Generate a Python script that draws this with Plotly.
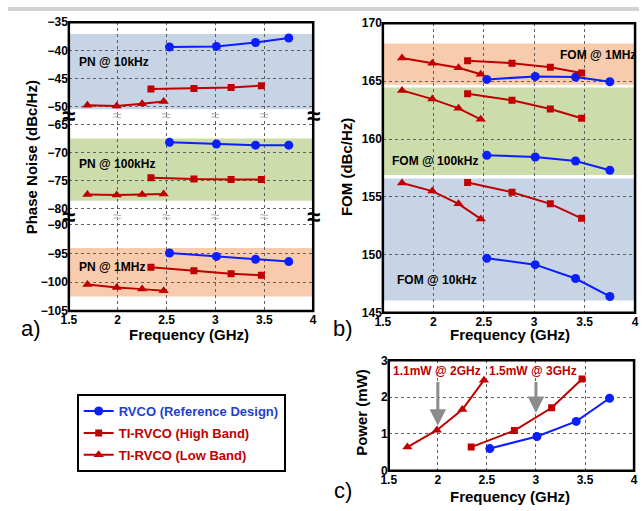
import plotly.graph_objects as go

W, H = 643, 511
def px(x): return x / W
def py(y): return 1 - y / H

# ---------------- data ----------------
f_rvco = [2.53, 3.01, 3.41, 3.75]
f_hb = [2.34, 2.78, 3.16, 3.47]
f_lb = [1.69, 1.99, 2.25, 2.47]

pn10k_rvco = [-39.4, -39.3, -38.6, -37.8]
pn10k_hb = [-46.9, -46.8, -46.6, -46.3]
pn10k_lb = [-49.8, -49.9, -49.5, -49.1]
pn100k_rvco = [-68.2, -68.5, -68.7, -68.7]
pn100k_hb = [-74.5, -74.75, -74.8, -74.8]
pn100k_lb = [-77.5, -77.6, -77.5, -77.4]
pn1m_rvco = [-94.9, -95.5, -96.0, -96.4]
pn1m_hb = [-97.4, -98.0, -98.5, -98.8]
pn1m_lb = [-100.4, -100.9, -101.2, -101.5]

fom1m_rvco = [165.15, 165.4, 165.35, 164.95]
fom1m_hb = [166.75, 166.55, 166.2, 165.7]
fom1m_lb = [167.0, 166.55, 166.15, 165.6]
fom100k_rvco = [158.6, 158.45, 158.1, 157.3]
fom100k_hb = [163.9, 163.35, 162.6, 161.8]
fom100k_lb = [164.2, 163.45, 162.65, 161.7]
fom10k_rvco = [149.7, 149.15, 147.95, 146.4]
fom10k_hb = [156.25, 155.4, 154.4, 153.15]
fom10k_lb = [156.2, 155.5, 154.4, 153.1]

pw_rvco = [0.6, 0.93, 1.34, 1.97]
pw_hb = [0.64, 1.09, 1.71, 2.49]
pw_lb = [0.64, 1.1, 1.66, 2.46]

series_names = ["RVCO (Reference Design)", "TI-RVCO (High Band)", "TI-RVCO (Low Band)"]
x_ticks = [1.5, 2, 2.5, 3, 3.5, 4]
pn_ticks_top = [-35, -40, -45, -50]
pn_ticks_mid = [-65, -70, -75, -80]
pn_ticks_bot = [-90, -95, -100, -105]
fom_ticks = [145, 150, 155, 160, 165, 170]
pw_ticks = [0, 1, 2, 3]

# ---------------- style ----------------
BLUE = "#0a1eff"
RED = "#c00000"
BLUE_TXT = "#1f3fd0"
FONT = "Liberation Sans, Arial, sans-serif"
FONT_REG = "Liberation Sans, Arial, sans-serif"
BAND_BLUE = "#c6d4e5"
BAND_GREEN = "#cddcab"
BAND_ORANGE = "#f8cbad"

styles = [
    dict(color=BLUE, symbol="circle", size=9),
    dict(color=RED, symbol="square", size=7),
    dict(color=RED, symbol="triangle-up", size=9),
]

fig = go.Figure()

def add_group(xs, ys, xa, ya, legend=False):
    for i, (xv, yv) in enumerate(zip(xs, ys)):
        st = styles[i]
        txtcol = BLUE_TXT if i == 0 else RED
        fig.add_trace(go.Scatter(
            x=xv, y=yv, xaxis=xa, yaxis=ya, mode="lines+markers",
            line=dict(color=st["color"], width=2),
            marker=dict(color=st["color"], symbol=st["symbol"], size=st["size"]),
            name=f'<span style="color:{txtcol}">{series_names[i]}</span>',
            showlegend=legend, legendgroup=f"g{i}",
        ))

fx = [f_rvco, f_hb, f_lb]
add_group(fx, [pn10k_rvco, pn10k_hb, pn10k_lb], "x", "y")
add_group(fx, [pn100k_rvco, pn100k_hb, pn100k_lb], "x", "y2")
add_group(fx, [pn1m_rvco, pn1m_hb, pn1m_lb], "x", "y3")
add_group(fx, [fom1m_rvco, fom1m_hb, fom1m_lb], "x4", "y4")
add_group(fx, [fom100k_rvco, fom100k_hb, fom100k_lb], "x4", "y4")
add_group(fx, [fom10k_rvco, fom10k_hb, fom10k_lb], "x4", "y4")
add_group(fx, [pw_rvco, pw_hb, pw_lb], "x5", "y5", legend=True)

tickfont = dict(family=FONT, size=12, color="black", weight="bold")
grid = dict(showgrid=True, gridcolor="#606060", griddash="dot", gridwidth=1,
            zeroline=False, showline=False, ticks="", tickfont=tickfont,
            fixedrange=True)

# panel a geometry
ax_a = [px(62), px(311)]
seg1 = [py(111.5), py(15.7)]
seg2 = [py(215.6), py(111.5)]
seg3 = [py(312.5), py(215.6)]
ax_b = [px(382), px(639)]
ay_b = [py(314.3), py(16.7)]
ax_c = [px(388), px(638)]
ay_c = [py(476.7), py(363.3)]

fig.update_layout(
    width=W, height=H, margin=dict(l=0, r=0, t=0, b=0),
    paper_bgcolor="white", plot_bgcolor="white",
    xaxis=dict(domain=ax_a, anchor="y3", range=[1.5, 4], tickvals=x_ticks, **grid),
    yaxis=dict(domain=seg1, anchor="x", range=[-51.6, -35], tickvals=pn_ticks_top, **grid),
    yaxis2=dict(domain=seg2, anchor="x", range=[-81.45, -63.41], tickvals=pn_ticks_mid, **grid),
    yaxis3=dict(domain=seg3, anchor="x", range=[-105, -88.58], tickvals=pn_ticks_bot, **grid),
    xaxis4=dict(domain=ax_b, anchor="y4", range=[1.5, 4], tickvals=x_ticks, **grid),
    yaxis4=dict(domain=ay_b, anchor="x4", range=[145, 170], tickvals=fom_ticks, **grid),
    xaxis5=dict(domain=ax_c, anchor="y5", range=[1.5, 4], tickvals=x_ticks, **grid),
    yaxis5=dict(domain=ay_c, anchor="x5", range=[0, 3], tickvals=pw_ticks, **grid),
    showlegend=True,
    legend=dict(x=px(70), y=py(398), xanchor="left", yanchor="top",
                bgcolor="white", bordercolor="black", borderwidth=2,
                font=dict(family=FONT, size=13, weight="bold"),
                tracegroupgap=2, traceorder="grouped"),
)

shapes = []
# top gray stripe
shapes.append(dict(type="rect", xref="paper", yref="paper", x0=0, x1=1, y0=py(4), y1=1,
                   fillcolor="#d2d2d2", line_width=0, layer="below"))
# bands panel a
for yr, y0, y1, col in [("y", -50.5, -37.1, BAND_BLUE), ("y2", -78.6, -67.5, BAND_GREEN),
                        ("y3", -102.5, -94.05, BAND_ORANGE)]:
    shapes.append(dict(type="rect", xref="x domain", yref=yr, x0=0, x1=1, y0=y0, y1=y1,
                       fillcolor=col, line_width=0, layer="below"))
# bands panel b
for y0, y1, col in [(146.06, 156.6, BAND_BLUE), (156.9, 164.45, BAND_GREEN),
                    (164.68, 168.24, BAND_ORANGE)]:
    shapes.append(dict(type="rect", xref="x4 domain", yref="y4", x0=0, x1=1, y0=y0, y1=y1,
                       fillcolor=col, line_width=0, layer="below"))
# frames
shapes.append(dict(type="rect", xref="x domain", yref="paper", x0=0, x1=1, y0=seg3[0], y1=seg1[1],
                   line=dict(color="black", width=2.5), layer="above"))
shapes.append(dict(type="rect", xref="x4 domain", yref="y4 domain", x0=0, x1=1, y0=0, y1=1,
                   line=dict(color="black", width=2.5), layer="above"))
shapes.append(dict(type="rect", xref="x5 domain", yref="y5 domain", x0=0, x1=1, y0=0, y1=1,
                   line=dict(color="black", width=2.5), layer="above"))
fig.update_layout(shapes=shapes)

ann = []
def text(x, y, s, size=12, color="black", family=FONT, weight="bold", xanchor="center",
         textangle=0, xref="paper", yref="paper"):
    ann.append(dict(x=x, y=y, xref=xref, yref=yref, text=s, showarrow=False,
                    xanchor=xanchor, yanchor="middle", textangle=textangle,
                    font=dict(family=family, size=size, color=color, weight=weight)))

# break marks
for yb in [seg1[0], seg2[0]]:
    for xv in [2, 2.5, 3, 3.5]:
        ann.append(dict(x=xv, y=yb, xref="x", yref="paper", text="≈", showarrow=False,
                        xanchor="center", yanchor="middle",
                        font=dict(family=FONT_REG, size=16, color="#b8b8b8")))
    for xv in [0, 1]:
        ann.append(dict(x=xv, y=yb, xref="x domain", yref="paper", text="≈", showarrow=False,
                        xanchor="center", yanchor="middle",
                        font=dict(family=FONT_REG, size=24, color="black", weight="bold")))

# region labels
text(px(70), py(57), "PN @ 10kHz", xanchor="left")
text(px(70), py(161), "PN @ 100kHz", xanchor="left")
text(px(70), py(267), "PN @ 1MHz", xanchor="left")
text(px(560), py(49), "FOM @ 1MHz", xanchor="left")
text(px(389), py(158), "FOM @ 100kHz", xanchor="left")
text(px(394), py(281), "FOM @ 10kHz", xanchor="left")

# axis titles
text(px(24), py(155), "Phase Noise (dBc/Hz)", size=15, textangle=-90)
text(px(345), py(165), "FOM (dBc/Hz)", size=15, textangle=-90)
text(px(360), py(417), "Power (mW)", size=15, textangle=-90)
text(px(184), py(337), "Frequency (GHz)", size=15)
text(px(512), py(337), "Frequency (GHz)", size=15)
text(px(512), py(503), "Frequency (GHz)", size=15)

# panel letters
text(px(23), py(331), "a)", size=22, family=FONT_REG, weight="normal")
text(px(341), py(331), "b)", size=22, family=FONT_REG, weight="normal")
text(px(341), py(497), "c)", size=22, family=FONT_REG, weight="normal")

# panel c callouts
text(1.99, 2.72, "1.1mW @ 2GHz", size=12, color=RED, xref="x5", yref="y5")
text(2.97, 2.72, "1.5mW @ 3GHz", size=12, color=RED, xref="x5", yref="y5")
for xa, ytip in [(2.0, 1.22), (3.0, 1.57)]:
    ann.append(dict(x=xa, y=ytip, ax=xa, ay=2.45, xref="x5", yref="y5", axref="x5", ayref="y5",
                    text="", showarrow=True, arrowhead=2, arrowsize=1.1, arrowwidth=3,
                    arrowcolor="#8c8c8c"))

fig.update_layout(annotations=ann)
fig.write_html("out.html")
